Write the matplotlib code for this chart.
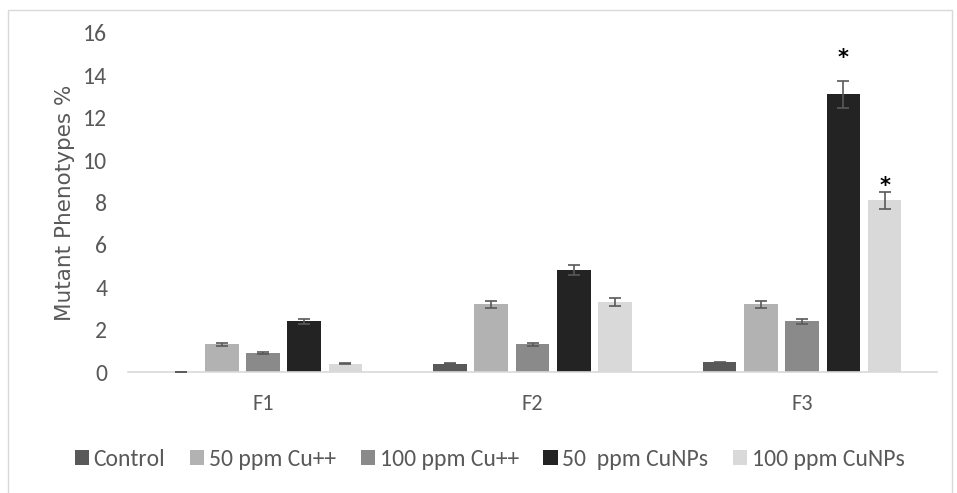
import matplotlib.pyplot as plt
import numpy as np
from matplotlib.patches import Rectangle

plt.rcParams['font.family'] = ['Carlito', 'Liberation Sans Narrow', 'Liberation Sans', 'DejaVu Sans']

generations = ['F1', 'F2', 'F3']
treatments = ['Control', '50 ppm Cu++', '100 ppm Cu++', '50  ppm CuNPs', '100 ppm CuNPs']
colors = ['#595959', '#b2b2b2', '#8a8a8a', '#232323', '#d9d9d9']

control = [0.02, 0.4, 0.45]
cu50 = [1.3, 3.2, 3.2]
cu100 = [0.9, 1.3, 2.4]
np50 = [2.4, 4.8, 13.1]
np100 = [0.4, 3.3, 8.1]

control_err = [0.0, 0.04, 0.04]
cu50_err = [0.08, 0.16, 0.16]
cu100_err = [0.05, 0.08, 0.12]
np50_err = [0.12, 0.24, 0.65]
np100_err = [0.04, 0.17, 0.4]

series = [control, cu50, cu100, np50, np100]
errors = [control_err, cu50_err, cu100_err, np50_err, np100_err]
# significance marks: (generation index, treatment index, height of mark)
stars = [(2, 3, 14.35), (2, 4, 8.3)]

fig = plt.figure(figsize=(9.57, 4.93), dpi=100)
fig.patches.append(Rectangle((8 / 957, -0.02), 944 / 957, 1.0, transform=fig.transFigure,
                             fill=False, edgecolor='#d9d9d9', linewidth=1))
ax = fig.add_axes([0.134, 0.2454, 0.845, 0.688])

x = np.arange(len(generations))
step = 0.153
width = 0.125
text_col = '#595959'

for i, (vals, errs) in enumerate(zip(series, errors)):
    pos = x + (i - 2) * step
    ax.bar(pos, vals, width, color=colors[i], label=treatments[i], zorder=2)
    ax.errorbar(pos, vals, yerr=errs, fmt='none', ecolor='#595959', elinewidth=1.2,
                capsize=4.5, capthick=1.2, zorder=3)

for g, t, h in stars:
    ax.text(x[g] + (t - 2) * step, h, '*', ha='center', va='bottom',
            fontsize=15, fontweight='bold', color='black', family=['DejaVu Sans'])

ax.set_xlim(-0.5, 2.5)
ax.set_ylim(0, 16)
ax.set_yticks(range(0, 17, 2))
ax.set_xticks(x)
ax.set_xticklabels(generations)
ax.tick_params(axis='y', length=0, labelsize=17, colors=text_col, pad=15)
ax.tick_params(axis='x', length=0, labelsize=16, colors=text_col, pad=16)
for s in ['top', 'right', 'left']:
    ax.spines[s].set_visible(False)
ax.spines['bottom'].set_color('#d9d9d9')
ax.spines['bottom'].set_linewidth(1.2)
ax.set_ylabel('Mutant Phenotypes %', fontsize=15.5, color=text_col, labelpad=6,
              family=['DejaVu Sans'])

ax.legend(loc='center', bbox_to_anchor=(0.447, -0.257), ncol=5, frameon=False,
          fontsize=17, handlelength=0.6, handleheight=0.6, handletextpad=0.2,
          columnspacing=1.05, labelcolor=text_col)

fig.savefig('out.png', dpi=100, facecolor='white')
